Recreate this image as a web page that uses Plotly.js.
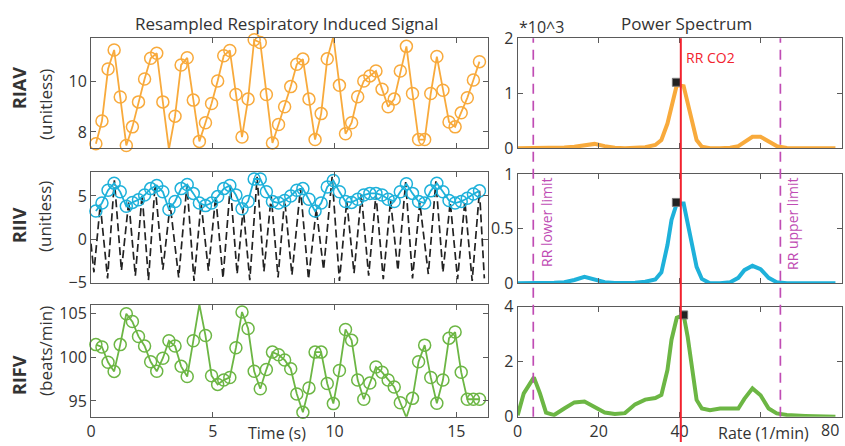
<!DOCTYPE html>
<html>
<head>
<meta charset="utf-8">
<script src="https://cdn.plot.ly/plotly-3.0.1.min.js"></script>
<style>html,body{margin:0;padding:0;background:#fff}#chart{width:845px;height:446px}</style>
</head>
<body>
<div id="chart"></div>
<script>
// ---- time axis of the resampled signals (s) ----
const timeS = [0.20,0.45,0.70,0.95,1.20,1.45,1.70,1.95,2.20,2.45,2.70,2.95,3.20,3.45,3.70,3.95,
  4.20,4.45,4.70,4.95,5.20,5.45,5.70,5.95,6.20,6.45,6.70,6.95,7.20,7.45,7.70,7.95,
  8.20,8.45,8.70,8.95,9.20,9.45,9.70,9.95,10.20,10.45,10.70,10.95,11.20,11.45,11.70,11.95,
  12.20,12.45,12.70,12.95,13.20,13.45,13.70,13.95,14.20,14.45,14.70,14.95,15.20,15.45,15.70,15.95];

// RIAV (unitless)
const riav = [7.54,8.43,10.47,11.22,9.37,7.47,8.20,9.18,10.08,10.89,11.09,9.18,7.32,8.62,10.63,10.91,
  9.25,7.63,8.36,9.12,10.00,10.99,11.20,9.47,7.80,9.29,11.62,11.51,9.47,7.57,8.29,8.99,
  9.78,10.66,10.86,9.29,7.70,8.72,10.87,11.75,9.83,7.93,8.36,9.38,10.00,10.20,10.39,9.68,
  8.99,9.29,10.39,11.36,9.51,7.70,7.70,9.51,10.96,9.64,8.39,8.20,8.75,9.34,10.04,10.76];

// RIIV (unitless)
const riiv = [3.26,4.19,5.67,6.48,5.48,3.81,4.26,4.56,5.11,5.85,6.22,5.48,3.44,4.37,5.85,6.33,
  5.30,4.19,3.89,4.19,4.93,5.85,6.22,5.11,3.52,4.37,6.96,6.96,5.48,4.37,4.19,4.48,
  5.00,5.67,5.85,4.63,3.26,4.19,6.04,6.78,5.48,4.37,4.26,4.63,5.11,5.30,5.30,5.11,
  4.63,4.37,5.48,6.41,5.30,4.37,4.19,5.59,6.48,5.48,4.48,4.19,4.37,4.74,5.22,5.59];

// Raw beat-to-beat signal behind RIIV (dashed black)
const rawT = [0.00,0.12,0.38,0.68,0.96,1.25,1.55,1.82,2.10,2.36,2.63,2.95,3.25,3.60,3.94,4.23,
  4.52,4.82,5.12,5.42,5.72,6.00,6.25,6.52,6.82,7.10,7.40,7.68,7.95,8.25,8.60,8.93,
  9.25,9.55,9.90,10.20,10.50,10.80,11.10,11.40,11.70,12.00,12.30,12.60,12.92,13.20,13.50,13.85,
  14.16,14.45,14.75,15.05,15.35,15.65,15.95,16.15];
const rawV = [-0.5,-3.8,4.0,-4.5,6.8,-3.6,4.4,-4.2,5.2,-4.7,6.3,-3.5,4.0,-4.4,6.3,-4.8,
  4.2,-3.6,5.0,-4.5,6.2,-4.0,3.6,-4.7,7.2,-3.7,5.0,-4.4,4.6,-4.1,5.9,-4.6,
  3.5,-3.5,7.2,-4.8,4.4,-3.9,5.2,-4.2,5.2,-4.6,4.5,-3.6,6.6,-4.5,4.2,-4.0,
  6.7,-3.8,4.3,-4.6,4.4,-4.8,5.6,-4.5];

// RIFV (beats/min)
const rifv = [101.46,101.19,99.43,98.39,101.46,105.0,104.1,102.4,101.3,99.5,98.4,99.9,101.9,101.3,98.97,97.8,
  101.9,106.05,102.5,97.9,96.9,97.4,97.7,101.1,105.2,103.3,98.4,96.4,98.6,100.6,100.3,99.7,
  98.7,95.8,93.7,96.5,100.6,100.6,97.0,94.7,98.5,103.2,101.95,97.4,95.2,97.05,98.9,98.3,
  97.4,96.6,94.8,93.1,95.3,99.5,101.4,97.7,94.75,97.4,102.2,102.9,98.3,95.2,95.2,95.2];

// ---- power spectra (x 10^3) ----
const rate = [0,1.5,4,5.5,7,9,11.5,14,16.5,19,21.5,24,26.5,29,31.5,34,35.5,37,38,39.3,41,42,43,44.2,45.5,47.5,
  50,52.5,54.5,56,58,60,62,64,66.5,71,78.5];
const psdRIAV = [0,0,0,0,0,0.005,0.015,0.03,0.06,0.08,0.04,0.01,0,0.01,0.02,0.06,0.15,0.45,0.75,1.15,1.13,0.8,0.5,0.15,0.03,0,
  0,0.01,0.04,0.12,0.21,0.21,0.12,0.04,0.005,0,0];
const psdRIIV = [0,0,0,0,0.005,0.005,0.01,0.03,0.06,0.035,0.01,0.003,0,0.005,0.015,0.035,0.1,0.35,0.58,0.73,0.73,0.55,0.35,0.15,0.04,0,
  0,0.01,0.05,0.12,0.16,0.13,0.05,0.01,0,0,0];
const psdRIFV = [0.05,0.85,1.43,0.85,0.15,0.06,0.3,0.52,0.55,0.35,0.15,0.1,0.13,0.45,0.62,0.68,0.79,1.7,2.8,3.6,3.7,2.9,1.82,0.61,0.3,0.24,
  0.3,0.3,0.3,0.65,1.03,0.78,0.3,0.12,0.06,0.03,0];

// detected spectral peaks
const peakRate = [39.2, 39.2, 41.0];
const peakPow = [1.2, 0.74, 3.7];

// reference lines (1/min)
const rrCO2 = 40.3;
const rrLower = 3.85;
const rrUpper = 64.9;

// tick labels
const leftXTicks = [0,5,10,15];
const rightXTicks = [0,20,40,60,80];
const rightXText = ['0','20','40','',''];

// ---- styling ----
const W = 845, H = 446;
const F = 'Open Sans, sans-serif';
const cOrange = '#F8AA3C', cBlue = '#1EB1DA', cGreen = '#6CB644', cMag = '#C04CB4', cRed = '#F2222E';
const px = v => v / W;
const py = v => 1 - v / H;

function ax(extra) {
  return Object.assign({
    showline: true, mirror: 'ticks', linecolor: '#5a5a5a', linewidth: 1,
    ticks: 'inside', ticklen: 5, tickcolor: '#5a5a5a', showgrid: false, zeroline: false,
    tickfont: {family: F, size: 16, color: '#333'}, fixedrange: true, tickmode: 'array'
  }, extra);
}

const LX = [px(91), px(488)], RX = [px(517.7), px(841.5)];
const leftX = (anchor, labels) => ax({domain: LX, range: [0, 16.3], anchor: anchor,
  tickvals: leftXTicks, showticklabels: labels});
const rightX = (anchor, labels) => ax({domain: RX, range: [0, 80], anchor: anchor,
  tickvals: rightXTicks, ticktext: rightXText, showticklabels: labels});

const layout = {
  width: W, height: H, margin: {l: 0, r: 0, t: 0, b: 0},
  paper_bgcolor: '#fff', plot_bgcolor: '#fff', showlegend: false,
  font: {family: F, color: '#333'},
  xaxis: leftX('y', false),
  xaxis2: leftX('y2', false),
  xaxis3: leftX('y3', true),
  xaxis4: rightX('y4', false),
  xaxis5: rightX('y5', false),
  xaxis6: rightX('y6', true),
  yaxis: ax({domain: [py(148), py(37.7)], range: [7.37, 11.7], anchor: 'x', tickvals: [8, 10]}),
  yaxis2: ax({domain: [py(282.7), py(171.7)], range: [-5, 7.8], anchor: 'x2', tickvals: [-5, 0, 5], ticktext: ['\u22125', '0', '5']}),
  yaxis3: ax({domain: [py(416.7), py(305)], range: [93.2, 106], anchor: 'x3', tickvals: [95, 100, 105]}),
  yaxis4: ax({domain: [py(148.3), py(38.3)], range: [0, 2], anchor: 'x4', tickvals: [0, 1, 2]}),
  yaxis5: ax({domain: [py(283.3), py(174)], range: [0, 1], anchor: 'x5', tickvals: [0, 0.5, 1]}),
  yaxis6: ax({domain: [py(416.7), py(306.7)], range: [0, 4], anchor: 'x6', tickvals: [0, 2, 4]}),
  shapes: [
    {type: 'line', xref: 'x4', yref: 'paper', x0: rrLower, x1: rrLower, y0: py(416.7), y1: py(38.3),
     line: {color: cMag, width: 1.7, dash: '10px,7px'}},
    {type: 'line', xref: 'x4', yref: 'paper', x0: rrUpper, x1: rrUpper, y0: py(416.7), y1: py(38.3),
     line: {color: cMag, width: 1.7, dash: '10px,7px'}},
    {type: 'line', xref: 'x4', yref: 'paper', x0: rrCO2, x1: rrCO2, y0: py(442), y1: py(38.3),
     line: {color: cRed, width: 2}}
  ],
  annotations: []
};

function note(text, x, y, opts) {
  layout.annotations.push(Object.assign({text: text, xref: 'paper', yref: 'paper', x: px(x), y: py(y),
    showarrow: false, xanchor: 'center', yanchor: 'middle',
    font: {family: F, size: 15, color: '#333'}}, opts || {}));
}
note('Resampled Respiratory Induced Signal', 286, 23, {font: {family: F, size: 17, color: '#333'}});
note('Power Spectrum', 686, 23, {font: {family: F, size: 17, color: '#333'}});
note('*10^3', 541, 27, {font: {family: F, size: 16, color: '#333'}});
note('<b>RIAV</b>', 19, 88, {textangle: -90, font: {family: F, size: 18, color: '#333'}});
note('(unitless)', 45, 105, {textangle: -90, font: {family: F, size: 17, color: '#333'}});
note('<b>RIIV</b>', 19, 225, {textangle: -90, font: {family: F, size: 18, color: '#333'}});
note('(unitless)', 45, 217, {textangle: -90, font: {family: F, size: 17, color: '#333'}});
note('<b>RIFV</b>', 19, 375, {textangle: -90, font: {family: F, size: 18, color: '#333'}});
note('(beats/min)', 45, 351, {textangle: -90, font: {family: F, size: 17, color: '#333'}});
note('Time (s)', 277, 433, {font: {family: F, size: 16, color: '#333'}});
note('Rate (1/min)', 763, 433, {font: {family: F, size: 16, color: '#333'}});
note('80', 830, 430, {font: {family: F, size: 16, color: '#333'}});
note('RR CO2', 710, 57, {font: {family: F, size: 14, color: cRed}});
note('RR lower limit', 546, 222, {textangle: -90, font: {family: F, size: 14, color: cMag}});
note('RR upper limit', 792, 224, {textangle: -90, font: {family: F, size: 14, color: cMag}});

const sig = (x, y, xa, ya, color) => ({
  x: x, y: y, xaxis: xa, yaxis: ya, type: 'scatter', mode: 'lines+markers', cliponaxis: false,
  line: {color: color, width: 1.8},
  marker: {symbol: 'circle-open', size: 12, color: color, line: {width: 1.5, color: color}}
});
const spec = (y, xa, ya, color) => ({
  x: rate, y: y, xaxis: xa, yaxis: ya, type: 'scatter', mode: 'lines',
  line: {color: color, width: 4}
});
const pk = (i, xa, ya) => ({
  x: [peakRate[i]], y: [peakPow[i]], xaxis: xa, yaxis: ya, type: 'scatter', mode: 'markers',
  cliponaxis: false, marker: {symbol: 'square', size: 8, color: '#222', line: {width: 1, color: '#777'}}
});

const data = [
  sig(timeS, riav, 'x', 'y', cOrange),
  {x: rawT, y: rawV, xaxis: 'x2', yaxis: 'y2', type: 'scatter', mode: 'lines',
   line: {color: '#222', width: 1.7, dash: '8px,4px'}},
  sig(timeS, riiv, 'x2', 'y2', cBlue),
  sig(timeS, rifv, 'x3', 'y3', cGreen),
  spec(psdRIAV, 'x4', 'y4', cOrange),
  spec(psdRIIV, 'x5', 'y5', cBlue),
  spec(psdRIFV, 'x6', 'y6', cGreen),
  pk(0, 'x4', 'y4'), pk(1, 'x5', 'y5'), pk(2, 'x6', 'y6')
];

Plotly.newPlot('chart', data, layout, {staticPlot: true, displayModeBar: false});
</script>
</body>
</html>
